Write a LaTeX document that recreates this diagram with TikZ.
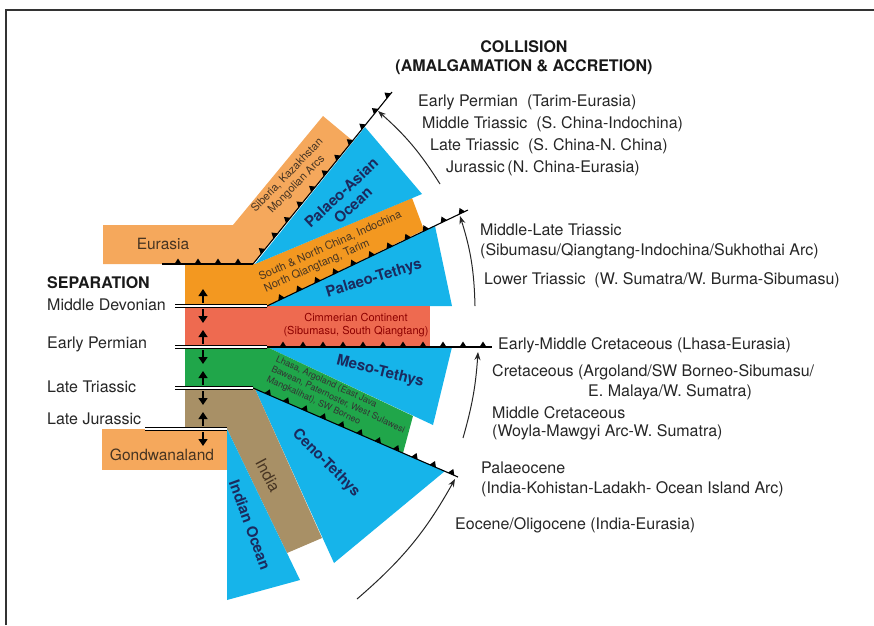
\documentclass[tikz,border=0pt]{standalone}
\usepackage{fontspec}
\setmainfont{TeX Gyre Heros}
\usetikzlibrary{arrows.meta}
\usetikzlibrary{decorations.markings}
\definecolor{light-orange}{RGB}{245,168,92}
\definecolor{china-orange}{RGB}{243,152,32}
\definecolor{ocean-blue}{RGB}{22,180,234}
\definecolor{cimmerian-red}{RGB}{238,106,80}
\definecolor{lhasa-green}{RGB}{32,166,74}
\definecolor{india-brown}{RGB}{168,144,102}
\definecolor{ocean-text}{RGB}{27,42,94}
\definecolor{land-text}{RGB}{70,52,34}
\tikzstyle{suture}=[line width=1.1pt,postaction={decorate,decoration={markings,
  mark=between positions 16pt and 1 step 20pt with {\fill (-3.5pt,0pt) -- (3.5pt,0pt) -- (0pt,5.5pt) -- cycle;}}}]
\tikzstyle{sepline}=[double,double distance=2.4pt,line width=1pt]
\tikzstyle{moveArrow}=[line width=1.3pt,-{Triangle[width=9pt,length=7pt]}]
\tikzstyle{rotArrow}=[line width=1pt,black!85,-{Stealth[length=8pt,width=6pt]}]
\tikzstyle{agetext}=[font=\fontsize{16}{19}\selectfont,inner sep=0pt,anchor=west,text=black!85]
\tikzstyle{headtext}=[font=\bfseries\fontsize{16}{19}\selectfont,inner sep=0pt,text=black!90]
\tikzstyle{oceantext}=[font=\bfseries\fontsize{15}{17}\selectfont,inner sep=0pt,text=ocean-text]
\tikzstyle{smalltext}=[font=\fontsize{11}{13}\selectfont,inner sep=0pt,text=land-text]
\tikzstyle{landtext}=[font=\fontsize{15.5}{18}\selectfont,inner sep=0pt,text=land-text]
% separation line with the two small arrows on the vertical axis
\newcommand{\separation}[4]{% name, y, left x, right x
  \coordinate (#1w) at (#3,#2);
  \coordinate (#1e) at (#4,#2);
  \draw[sepline] (#1w) -- (#1e);
  \coordinate (#1m) at (203,#2);
  \draw[moveArrow] ([yshift=3pt]#1m) -- ++(0pt,14pt);
  \draw[moveArrow] ([yshift=-3pt]#1m) -- ++(0pt,-14pt);
}

\begin{document}
\begin{tikzpicture}[x=1pt,y=-1pt]
\useasboundingbox (0,0) rectangle (874,625);
% frame
\draw[line width=2.5pt,black!80] (6,625) -- (6,10) -- (874,10);

% continents and oceans
\fill[light-orange] (103,225) -- (233,225) -- (323,116) -- (353,141) -- (253,264) -- (103,264) -- cycle;
\fill[china-orange] (185,264) -- (255,264) -- (412,198) -- (424,230) -- (267,306) -- (185,306) -- cycle;
\fill[ocean-blue] (255,264) -- (365,127) -- (422,194) -- cycle; % palaeo-asian
\fill[ocean-blue] (267,306) -- (435,226) -- (452,306) -- cycle; % palaeo-tethys
\fill[cimmerian-red] (185,306) rectangle (430,347);
\fill[ocean-blue] (267,347) -- (452,347) -- (433,425) -- cycle; % meso-tethys
\fill[lhasa-green] (185,347) -- (267,347) -- (413,416) -- (403,453) -- (255,389) -- (185,389) -- cycle;
\fill[ocean-blue] (255,389) -- (445,471) -- (334,563) -- cycle; % ceno-tethys
\fill[india-brown] (185,389) -- (255,389) -- (322,538) -- (287,553) -- (227,429) -- (185,429) -- cycle;
\fill[ocean-blue] (227,429) -- (300,580) -- (227,600) -- cycle; % indian ocean
\fill[light-orange] (102,429) rectangle (227,470);

% sutures
\coordinate (eurW) at (162,264);
\coordinate (eurE) at (253,264);
\coordinate (asiaTip) at (392,92);
\coordinate (paleoW) at (267,306);
\coordinate (paleoTip) at (468,210);
\coordinate (mesoW) at (267,347);
\coordinate (mesoTip) at (492,347);
\coordinate (cenoW) at (253,388);
\coordinate (cenoTip) at (458,477);
\draw[suture] (eurW) -- (eurE);
\draw[suture] (eurE) -- (asiaTip);
\draw[suture] (paleoW) -- (paleoTip);
\draw[suture] (mesoW) -- (mesoTip);
\draw[suture] (cenoW) -- (cenoTip);

% separations
\separation{md}{306}{175}{267}
\separation{ep}{347}{175}{267}
\separation{lt}{388}{175}{253}
\separation{lj}{429}{145}{227}

% collision arrows
\coordinate (a1s) at (440,184);
\coordinate (a1e) at (378,111);
\coordinate (a2s) at (475,306);
\coordinate (a2e) at (460,216);
\coordinate (a3s) at (463,438);
\coordinate (a3e) at (478,352);
\coordinate (a4s) at (357,599);
\coordinate (a4e) at (455,479);
\draw[rotArrow] (a1s) to[bend right=8] (a1e);
\draw[rotArrow] (a2s) to[bend right=8] (a2e);
\draw[rotArrow] (a3s) to[bend right=6] (a3e);
\draw[rotArrow] (a4s) to[bend right=10] (a4e);

% labels in the plates
\node[landtext] (eurasia) at (163,244) {Eurasia};
\node[landtext] (gondwana) at (162,455) {Gondwanaland};
\node[smalltext,rotate=46,align=center] (siberia) at (292,180) {Siberia, Kazakhstan\\Mongolian Arcs};
\node[oceantext,rotate=43,align=center] (paleoasian) at (347,199) {Palaeo-Asian\\Ocean};
\node[smalltext,rotate=24,align=left] (southchina) at (333,252) {South \& North China, Indochina\\North Qiangtang, Tarim};
\node[oceantext,rotate=17] (paleotethys) at (374,279) {Palaeo-Tethys};
\node[smalltext,text=red!55!black,align=center] (cimmerian) at (356,325) {Cimmerian Continent\\(Sibumasu, South Qiangtang)};
\node[oceantext,rotate=-14] (mesotethys) at (380,372) {Meso-Tethys};
\node[smalltext,font=\fontsize{9}{11}\selectfont,text=black!80,rotate=-25,align=left] (lhasa) at (338,400) {Lhasa, Argoland (East Java\\Bawean, Paternoster, West Sulawesi\\Mangkalihat), SW Borneo};
\node[oceantext,rotate=-45] (cenotethys) at (326,463) {Ceno-Tethys};
\node[landtext,font=\fontsize{16}{18}\selectfont,rotate=-62] (india) at (268,475) {India};
\node[oceantext,rotate=-70] (indianocean) at (250,525) {Indian Ocean};

% collision side
\node[headtext] (collision) at (524,47) {COLLISION};
\node[headtext] (amalgamation) at (524,67) {(AMALGAMATION \& ACCRETION)};
\node[agetext] (tarim) at (418,102) {Early Permian\ \ (Tarim-Eurasia)};
\node[agetext] (indochina) at (422,124) {Middle Triassic\ \ (S. China-Indochina)};
\node[agetext] (nchina) at (430,146) {Late Triassic\ \ (S. China-N. China)};
\node[agetext] (jurassic) at (446,168) {Jurassic\,(N. China-Eurasia)};
\node[agetext] (mlt) at (480,230) {Middle-Late Triassic};
\node[agetext] (sukhothai) at (480,251) {(Sibumasu/Qiangtang-Indochina/Sukhothai Arc)};
\node[agetext] (sumatra) at (484,280) {Lower Triassic\ \ (W. Sumatra/W. Burma-Sibumasu)};
\node[agetext] (lhasaeur) at (498,345) {Early-Middle Cretaceous (Lhasa-Eurasia)};
\node[agetext] (argoland) at (492,372) {Cretaceous (Argoland/SW Borneo-Sibumasu/};
\node[agetext] (malaya) at (588,392) {E. Malaya/W. Sumatra)};
\node[agetext] (midcret) at (492,413) {Middle Cretaceous};
\node[agetext] (woyla) at (492,432) {(Woyla-Mawgyi Arc-W. Sumatra)};
\node[agetext] (palaeocene) at (481,468) {Palaeocene};
\node[agetext] (kohistan) at (481,489) {(India-Kohistan-Ladakh- Ocean Island Arc)};
\node[agetext] (eocene) at (455,525) {Eocene/Oligocene (India-Eurasia)};

% separation side
\node[headtext,anchor=west] (separation) at (47,283) {SEPARATION};
\node[agetext] (devonian) at (47,305) {Middle Devonian};
\node[agetext] (permian) at (47,344) {Early Permian};
\node[agetext] (triassic) at (47,387) {Late Triassic};
\node[agetext] (jurassicL) at (47,419) {Late Jurassic};
\end{tikzpicture}
\end{document}
